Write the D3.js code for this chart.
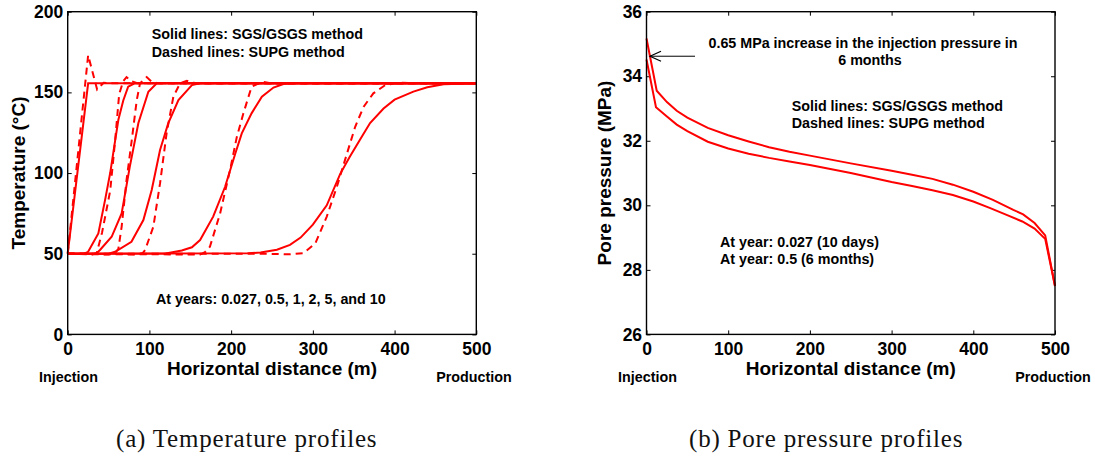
<!DOCTYPE html>
<html>
<head>
<meta charset="utf-8">
<script src="https://cdn.jsdelivr.net/npm/d3@7"></script>
<style>
  html, body { margin: 0; padding: 0; background: #fff; }
  svg { display: block; }
  .tick text { font-family: "Liberation Sans", Arial, sans-serif; font-weight: bold; font-size: 17.5px; fill: #000; }
  .ann { font-family: "Liberation Sans", Arial, sans-serif; font-weight: bold; font-size: 14.3px; fill: #000; }
  .title { font-family: "Liberation Sans", Arial, sans-serif; font-weight: bold; font-size: 19px; fill: #000; }
  .cap { font-family: "Liberation Serif", "Times New Roman", serif; font-size: 25px; letter-spacing: 0.8px; fill: #111; }
</style>
</head>
<body>
<svg id="chart" width="1095" height="457"></svg>
<script>
// ---------- DATA ----------
const xTicks = [0, 100, 200, 300, 400, 500];
const tempTicks = [0, 50, 100, 150, 200];
const presTicks = [26, 28, 30, 32, 34, 36];
const years = ["0.027", "0.5", "1", "2", "5", "10"];

// (a) Temperature profiles: [distance (m), temperature (°C)]
const tempSolid_0027 = [[0,50],[25,155.6],[500,155.6]];
const tempDashed_0027 = [[0,50],[25,173],[36,151.8],[44,156],[52,155.6],[500,155.6]];
const tempSolid_05 = [[0,50],[20,50],[25,51.2],[37.5,62.6],[46,84],[52,100],[58,120],[62,133],[68,145],[74,153.5],[82,155.6],[500,155.6]];
const tempDashed_05 = [[0,50],[30,49.5],[35.5,50.5],[42,63],[52,89],[58,120],[63,149],[68,157],[72,159.5],[78,157],[86,155.6],[500,155.6]];
const tempSolid_1 = [[0,50],[35,50.2],[39.5,52.3],[53.8,60.5],[66,75],[76,104],[86.5,131],[98.7,150.4],[109,155.6],[500,155.6]];
const tempDashed_1 = [[0,50],[50,49.5],[58,50.5],[62,53],[66,66.7],[72,95.6],[78.4,120.4],[84.5,145.2],[88.5,155.6],[96.7,159.5],[102.8,156.6],[110,155.6],[500,155.6]];
const tempSolid_2 = [[0,50],[50,50],[58,51.2],[78,57.4],[92.6,70.9],[102.8,89.5],[113,114.3],[123,130.8],[135.5,145.2],[152,154.5],[162,155.6],[500,155.6]];
const tempDashed_2 = [[0,50],[85,49.5],[92,50.5],[94.7,52.3],[104.8,66.7],[113,93.6],[121,124.6],[129.3,147.3],[137.5,155.6],[145.7,157.2],[152,156],[160,155.6],[500,155.6]];
const tempSolid_5 = [[0,50],[120,50.2],[139.6,52],[152,54],[162,58.5],[178,73],[192.6,91.5],[205,112],[213,124.6],[225,137],[237.6,147.3],[251.8,153],[264,155.2],[275,155.6],[500,155.6]];
const tempDashed_5 = [[0,50],[150,49.5],[162,49.5],[168,51],[174,54.3],[186.5,75],[198.7,102],[207,122.5],[215,137],[225,153.5],[237.6,156.6],[250,155.6],[500,155.6]];
const tempSolid_10 = [[0,50],[220,50.3],[236,50.7],[256,52.5],[272,55.5],[285,60],[300,68],[317,80],[333.5,99.5],[345,110],[358,121],[370,131],[386.5,140],[400,145.5],[423,150.5],[440,153.2],[460,155],[500,155.6]];
const tempDashed_10 = [[0,50],[240,50],[270,49.6],[288.5,50.4],[303,56.4],[317,73],[329.4,91.5],[341.7,112],[351.8,128.7],[362,141],[374,149.4],[388.5,154.5],[407,156],[430,155.6],[500,155.6]];

// (b) Pore pressure profiles: [distance (m), pressure (MPa)]
const pres_6months = [[0,35.17],[12.5,33.55],[25,33.2],[37,32.93],[50,32.72],[75,32.4],[100,32.17],[125,31.98],[150,31.8],[175,31.66],[200,31.54],[229,31.4],[250,31.3],[300,31.07],[325,30.95],[350,30.82],[375,30.64],[400,30.42],[424,30.17],[449,29.86],[461,29.72],[475,29.45],[488,29.07],[500,27.5]];
const pres_10days = [[0,34.52],[11.6,33.04],[25,32.75],[37,32.5],[50,32.3],[75,31.97],[100,31.76],[125,31.6],[150,31.47],[175,31.36],[200,31.25],[250,31.0],[300,30.72],[325,30.6],[350,30.47],[375,30.32],[400,30.12],[420,29.92],[440,29.71],[460,29.5],[475,29.28],[488,28.96],[500,27.5]];
const arrowFrom = [59.4, 34.62];
const arrowTip = [4.3, 34.62];

const tempSolid = [tempSolid_0027, tempSolid_05, tempSolid_1, tempSolid_2, tempSolid_5, tempSolid_10];
const tempDashed = [tempDashed_0027, tempDashed_05, tempDashed_1, tempDashed_2, tempDashed_5, tempDashed_10];

// ---------- DRAW ----------
const svg = d3.select("#chart");
const RED = "#ff0000";

function panel(xr, yDomain, yr, yTicks) {
  const x = d3.scaleLinear().domain([0, 500]).range(xr);
  const y = d3.scaleLinear().domain(yDomain).range(yr);
  const g = svg.append("g");
  const addAxis = (gen, tr) => {
    const a = g.append("g").attr("transform", tr).call(gen);
    a.attr("font-family", null).attr("font-size", null);
    a.select(".domain").remove();
    a.selectAll(".tick line").attr("stroke", "#000").attr("stroke-width", 1);
    return a;
  };
  addAxis(d3.axisBottom(x).tickValues(xTicks).tickSizeInner(-4).tickSizeOuter(0).tickPadding(8.2).tickFormat(d3.format("d")), `translate(0,${yr[0]})`);
  addAxis(d3.axisTop(x).tickValues(xTicks).tickSizeInner(-4).tickSizeOuter(0).tickFormat(""), `translate(0,${yr[1]})`);
  addAxis(d3.axisLeft(y).tickValues(yTicks).tickSizeInner(-4).tickSizeOuter(0).tickPadding(4.4).tickFormat(d3.format("d")), `translate(${xr[0]},0)`);
  addAxis(d3.axisRight(y).tickValues(yTicks).tickSizeInner(-4).tickSizeOuter(0).tickFormat(""), `translate(${xr[1]},0)`);
  return { x, y, g };
}

// Panel (a)
const A = panel([67.7, 476.3], [0, 200], [334.4, 11.7], tempTicks);
const lineA = d3.line().x(d => A.x(d[0])).y(d => A.y(d[1]));
A.g.append("g").selectAll("path").data(tempDashed).join("path")
  .attr("d", lineA).attr("fill", "none").attr("stroke", RED).attr("stroke-width", 2)
  .attr("stroke-dasharray", "7,5");
A.g.append("g").selectAll("path").data(tempSolid).join("path")
  .attr("d", lineA).attr("fill", "none").attr("stroke", RED).attr("stroke-width", 2);
A.g.append("rect").attr("x", A.x(0)).attr("y", A.y(200)).attr("width", A.x(500) - A.x(0)).attr("height", A.y(0) - A.y(200))
  .attr("fill", "none").attr("stroke", "#000").attr("stroke-width", 1.4);

A.g.append("text").attr("class", "ann").attr("x", 151.7).attr("y", 39.3).text("Solid lines: SGS/GSGS method");
A.g.append("text").attr("class", "ann").attr("x", 151.7).attr("y", 56.5).text("Dashed lines: SUPG method");
A.g.append("text").attr("class", "ann").attr("x", 156).attr("y", 304).text("At years: " + years.slice(0, 5).join(", ") + ", and " + years[5]);
A.g.append("text").attr("class", "title").attr("text-anchor", "middle").attr("x", 272).attr("y", 375).text("Horizontal distance (m)");
A.g.append("text").attr("class", "title").attr("text-anchor", "middle")
  .attr("transform", "translate(25.3,173) rotate(-90)").text("Temperature (°C)");
A.g.append("text").attr("class", "ann").attr("text-anchor", "middle").attr("x", 68.5).attr("y", 382).text("Injection");
A.g.append("text").attr("class", "ann").attr("text-anchor", "middle").attr("x", 474).attr("y", 382).text("Production");

// Panel (b)
const B = panel([646.5, 1055], [26, 36], [334.4, 11.7], presTicks);
const lineB = d3.line().x(d => B.x(d[0])).y(d => B.y(d[1]));
B.g.append("g").selectAll("path").data([pres_10days, pres_6months]).join("path")
  .attr("d", lineB).attr("fill", "none").attr("stroke", RED).attr("stroke-width", 2);
B.g.append("rect").attr("x", B.x(0)).attr("y", B.y(36)).attr("width", B.x(500) - B.x(0)).attr("height", B.y(26) - B.y(36))
  .attr("fill", "none").attr("stroke", "#000").attr("stroke-width", 1.4);

// arrow
const ax0 = B.x(arrowFrom[0]), ay = B.y(arrowFrom[1]), ax1 = B.x(arrowTip[0]);
B.g.append("line").attr("x1", ax0).attr("y1", ay).attr("x2", ax1).attr("y2", ay).attr("stroke", "#000").attr("stroke-width", 1);
B.g.append("path").attr("d", `M${ax1 + 11},${ay - 5}L${ax1},${ay}L${ax1 + 11},${ay + 5}`)
  .attr("fill", "none").attr("stroke", "#000").attr("stroke-width", 1.2);

B.g.append("text").attr("class", "ann").attr("text-anchor", "middle").attr("x", 863).attr("y", 48).text("0.65 MPa increase in the injection pressure in");
B.g.append("text").attr("class", "ann").attr("text-anchor", "middle").attr("x", 870).attr("y", 65).text("6 months");
B.g.append("text").attr("class", "ann").attr("x", 791.7).attr("y", 110.7).text("Solid lines: SGS/GSGS method");
B.g.append("text").attr("class", "ann").attr("x", 791.7).attr("y", 127.5).text("Dashed lines: SUPG method");
B.g.append("text").attr("class", "ann").attr("x", 720).attr("y", 246.7).text("At year: 0.027 (10 days)");
B.g.append("text").attr("class", "ann").attr("x", 720).attr("y", 263.5).text("At year: 0.5 (6 months)");
B.g.append("text").attr("class", "title").attr("text-anchor", "middle").attr("x", 850.75).attr("y", 375).text("Horizontal distance (m)");
B.g.append("text").attr("class", "title").attr("text-anchor", "middle")
  .attr("transform", "translate(611,173) rotate(-90)").text("Pore pressure (MPa)");
B.g.append("text").attr("class", "ann").attr("text-anchor", "middle").attr("x", 647.5).attr("y", 382).text("Injection");
B.g.append("text").attr("class", "ann").attr("text-anchor", "middle").attr("x", 1053).attr("y", 382).text("Production");

// captions
svg.append("text").attr("class", "cap").attr("x", 116).attr("y", 447).text("(a) Temperature profiles");
svg.append("text").attr("class", "cap").attr("x", 689).attr("y", 447).text("(b) Pore pressure profiles");
</script>
</body>
</html>
